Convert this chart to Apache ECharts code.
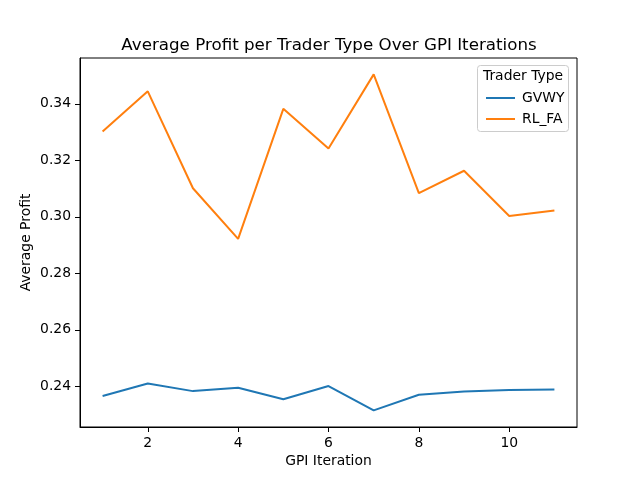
<!DOCTYPE html>
<html>
<head>
<meta charset="utf-8">
<script src="https://cdn.jsdelivr.net/npm/echarts@6/dist/echarts.min.js"></script>
<style>
  html, body { margin: 0; padding: 0; background: #fff; }
  #chart { width: 640px; height: 480px; }
</style>
</head>
<body>
<div id="chart"></div>
<script>
var iterations = [1, 2, 3, 4, 5, 6, 7, 8, 9, 10, 11];
var gvwy = [0.2366, 0.2410, 0.2383, 0.2395, 0.2354, 0.2401, 0.2315, 0.2370, 0.2382, 0.2387, 0.2389];
var rlFa = [0.3302, 0.3444, 0.3101, 0.2922, 0.3382, 0.3242, 0.3504, 0.3084, 0.3163, 0.3003, 0.3022];
var xTicks = [2, 4, 6, 8, 10];
var yTicks = [0.24, 0.26, 0.28, 0.30, 0.32, 0.34];

function pairs(xs, ys) {
    var out = [];
    for (var i = 0; i < xs.length; i++) {
        out.push([xs[i], ys[i]]);
    }
    return out;
}

var font = 'DejaVu Sans';
var chart = echarts.init(document.getElementById('chart'));

var option = {
    animation: false,
    backgroundColor: '#fff',
    title: {
        text: 'Average Profit per Trader Type Over GPI Iterations',
        left: 324,
        textAlign: 'center',
        top: 32,
        textStyle: { fontFamily: font, fontSize: 16.7, fontWeight: 'normal', color: '#000' }
    },
    grid: {
        left: 80, top: 58, right: 63, bottom: 53,
        show: true, borderColor: '#000', borderWidth: 1, backgroundColor: '#fff'
    },
    graphic: [
        {
            type: 'rect',
            shape: { x: 477.5, y: 65.5, width: 91, height: 66, r: 3 },
            style: { fill: 'rgba(255,255,255,0.8)', stroke: '#cccccc', lineWidth: 1 },
            z: 50
        },
        {
            type: 'text',
            x: 523, y: 76,
            style: {
                text: 'Trader Type', fontFamily: font, fontSize: 13.9, fill: '#000',
                align: 'center', verticalAlign: 'middle'
            },
            z: 51
        }
    ],
    legend: {
        orient: 'vertical',
        left: 481,
        top: 86,
        itemWidth: 29,
        itemHeight: 2,
        itemGap: 7,
        icon: 'rect',
        z: 52,
        textStyle: { fontFamily: font, fontSize: 13.9, color: '#000', padding: [0, 0, 0, 2] },
        data: ['GVWY', 'RL_FA']
    },
    xAxis: {
        type: 'value',
        min: 0.5,
        max: 11.5,
        name: 'GPI Iteration',
        nameLocation: 'middle',
        nameGap: 27,
        nameMoveOverlap: false,
        nameTextStyle: { fontFamily: font, fontSize: 13.9, color: '#000', verticalAlign: 'top' },
        splitLine: { show: false },
        axisLine: { show: true, lineStyle: { color: '#000' } },
        axisTick: { show: true, length: 5, lineStyle: { color: '#000' }, customValues: xTicks },
        axisLabel: { fontFamily: font, fontSize: 13.9, color: '#000', margin: 9, customValues: xTicks }
    },
    yAxis: {
        type: 'value',
        min: 0.2256,
        max: 0.3562,
        name: 'Average Profit',
        nameLocation: 'middle',
        nameGap: 47,
        nameMoveOverlap: false,
        nameTextStyle: { fontFamily: font, fontSize: 13.9, color: '#000' },
        splitLine: { show: false },
        axisLine: { show: true, lineStyle: { color: '#000' } },
        axisTick: { show: true, length: 5, lineStyle: { color: '#000' }, customValues: yTicks },
        axisLabel: {
            fontFamily: font, fontSize: 13.9, color: '#000', margin: 9, customValues: yTicks,
            formatter: function (v) { return v.toFixed(2); }
        }
    },
    series: [
        {
            name: 'GVWY',
            type: 'line',
            showSymbol: false,
            symbol: 'none',
            color: '#1f77b4',
            lineStyle: { width: 2, color: '#1f77b4' },
            data: pairs(iterations, gvwy)
        },
        {
            name: 'RL_FA',
            type: 'line',
            showSymbol: false,
            symbol: 'none',
            color: '#ff7f0e',
            lineStyle: { width: 2, color: '#ff7f0e' },
            data: pairs(iterations, rlFa)
        }
    ]
};

chart.setOption(option);
</script>
</body>
</html>
